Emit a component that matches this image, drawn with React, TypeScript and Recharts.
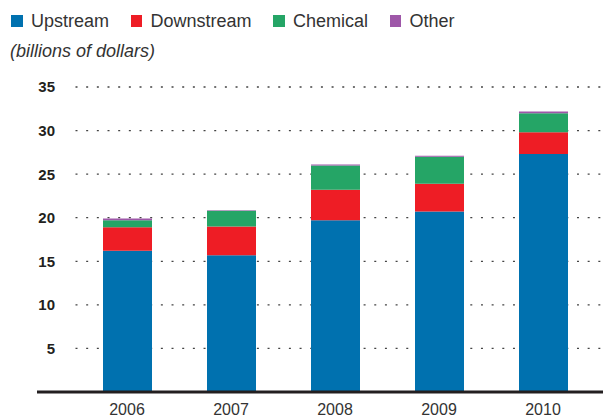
import React from 'react';
import { BarChart, Bar, XAxis, YAxis, CartesianGrid } from 'recharts';

const years = ['2006', '2007', '2008', '2009', '2010'];
const upstream = [16.2, 15.7, 19.7, 20.7, 27.3];
const downstream = [2.7, 3.3, 3.5, 3.2, 2.5];
const chemical = [0.8, 1.8, 2.8, 3.1, 2.2];
const other = [0.2, 0.05, 0.1, 0.1, 0.2];
const yTicks = [0, 5, 10, 15, 20, 25, 30, 35];
const unitLabel = '(billions of dollars)';

const series = [
  { key: 'upstream', name: 'Upstream', color: '#0071AF' },
  { key: 'downstream', name: 'Downstream', color: '#EE1D25' },
  { key: 'chemical', name: 'Chemical', color: '#25A566' },
  { key: 'other', name: 'Other', color: '#9E57A8' },
];

const data = years.map((year, i) => ({
  year,
  upstream: upstream[i],
  downstream: downstream[i],
  chemical: chemical[i],
  other: other[i],
}));

const FONT = '"Liberation Sans", Arial, Helvetica, sans-serif';

const YTick = (props: any) => {
  const { y, payload } = props;
  if (payload.value === 0) return <g />;
  return (
    <text
      x={55}
      y={y}
      dy="0.36em"
      textAnchor="end"
      fontFamily={FONT}
      fontSize={15}
      fontWeight="bold"
      fill="#231f20"
    >
      {payload.value}
    </text>
  );
};

const GridLine = (props: any) => {
  const { x1, x2, y1, y2 } = props;
  return (
    <line
      key={props.key ?? `${y1}`}
      x1={x1 + 38.5}
      x2={x2}
      y1={y1}
      y2={y2}
      stroke="#444"
      strokeWidth={1.3}
      strokeDasharray="2 8.67"
    />
  );
};

export default function App() {
  return (
    <div
      style={{
        position: 'absolute',
        left: 0,
        top: 0,
        width: 603,
        height: 417,
        fontFamily: FONT,
        background: '#fff',
      }}
    >
      <div
        style={{
          position: 'absolute',
          left: 11,
          top: 12,
          display: 'flex',
          alignItems: 'center',
          fontSize: 18,
          lineHeight: '18px',
          color: '#333',
          whiteSpace: 'nowrap',
        }}
      >
        {series.map((s) => (
          <div
            key={s.key}
            style={{ display: 'flex', alignItems: 'center', marginRight: 21.5 }}
          >
            <span
              style={{
                display: 'inline-block',
                width: 11.5,
                height: 11.5,
                background: s.color,
                marginRight: 8.5,
              }}
            />
            <span>{s.name}</span>
          </div>
        ))}
      </div>
      <div
        style={{
          position: 'absolute',
          left: 10,
          top: 41.5,
          fontSize: 18,
          lineHeight: '18px',
          fontStyle: 'italic',
          color: '#333',
          whiteSpace: 'nowrap',
        }}
      >
        {unitLabel}
      </div>
      <BarChart
        width={603}
        height={417}
        data={data}
        margin={{ top: 87, right: 0, bottom: 0, left: 0 }}
        barSize={49}
      >
        <CartesianGrid vertical={false} horizontal={GridLine} />
        <XAxis
          dataKey="year"
          padding={{ left: 38, right: 8 }}
          axisLine={{ stroke: '#231f20', strokeWidth: 3 }}
          tickLine={false}
          tickSize={0}
          tickMargin={12}
          height={25}
          tick={{ fontFamily: FONT, fontSize: 16, fill: '#333' }}
        />
        <YAxis
          width={37}
          domain={[0, 35]}
          ticks={yTicks}
          axisLine={false}
          tickLine={false}
          tick={<YTick />}
        />
        {series.map((s) => (
          <Bar
            key={s.key}
            dataKey={s.key}
            name={s.name}
            stackId="capex"
            fill={s.color}
            isAnimationActive={false}
          />
        ))}
      </BarChart>
    </div>
  );
}
